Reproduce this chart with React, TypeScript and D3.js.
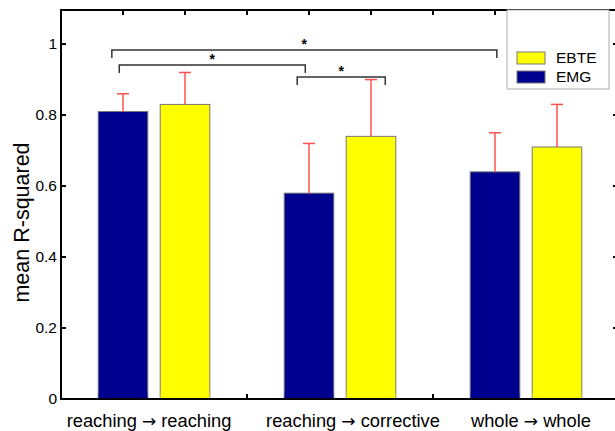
import React from "react";
import * as d3 from "d3";

// group labels and values
const categories = [
  ["reaching", "reaching"],
  ["reaching", "corrective"],
  ["whole", "whole"],
];
const labelPos = [1.42, 4.71, 7.58];
const emgPos = [1, 4, 7];
const ebtePos = [2, 5, 8];
const emptyPos = [3, 6];
const emgMean = [0.81, 0.58, 0.64];
const emgErr = [0.05, 0.14, 0.11];
const ebteMean = [0.83, 0.74, 0.71];
const ebteErr = [0.09, 0.16, 0.12];
const yTicks = [0, 0.2, 0.4, 0.6, 0.8, 1];
const xTicks = [1, 2, 3, 4, 5, 6, 7, 8];

// significance brackets: [x start, x end, level]
const brackets = [
  [0.82, 7.03, 0.983],
  [0.94, 3.94, 0.941],
  [3.81, 5.23, 0.907],
];

const EMG = "#00008f";
const EBTE = "#ffff00";
const ERR = "#ff5050";
const FONT = "Liberation Sans, Arial, sans-serif";

export default function App() {
  const width = 615;
  const height = 431;
  const margin = { left: 61, top: 10, right: -4, bottom: 32 };

  const x = d3.scaleLinear().domain([0, 9]).range([margin.left, width - margin.right]);
  const y = d3.scaleLinear().domain([0, 1.096]).range([height - margin.bottom, margin.top]);
  const bw = x(0.8) - x(0);

  const bar = (pos, val, err, fill, stroke, key) => (
    <g key={key}>
      <rect
        x={x(pos) - bw / 2}
        y={y(val)}
        width={bw}
        height={y(0) - y(val)}
        fill={fill}
        stroke={stroke}
        strokeWidth={1}
      />
      <line x1={x(pos)} x2={x(pos)} y1={y(val)} y2={y(val + err)} stroke={ERR} strokeWidth={1.5} />
      <line x1={x(pos) - 6} x2={x(pos) + 6} y1={y(val + err)} y2={y(val + err)} stroke={ERR} strokeWidth={1.5} />
    </g>
  );

  return (
    <svg width={width} height={height} style={{ position: "absolute", left: 0, top: 0 }} fontFamily={FONT}>
      <rect width={width} height={height} fill="#fff" />

      {/* bars */}
      {emgPos.map((p, i) => bar(p, emgMean[i], emgErr[i], EMG, "#777", "emg" + i))}
      {ebtePos.map((p, i) => bar(p, ebteMean[i], ebteErr[i], EBTE, "#777", "ebte" + i))}
      {emptyPos.map((p) => (
        <line key={"e" + p} x1={x(p) - 5} x2={x(p) + 5} y1={y(0)} y2={y(0)} stroke="#8b0000" strokeWidth={1.5} />
      ))}

      {/* axes box */}
      <line x1={x(0)} x2={width} y1={y(0)} y2={y(0)} stroke="#000" strokeWidth={2} />
      <line x1={x(0)} x2={width} y1={margin.top} y2={margin.top} stroke="#000" strokeWidth={2} />
      <line x1={x(0)} x2={x(0)} y1={margin.top - 1} y2={y(0) + 1} stroke="#000" strokeWidth={2} />
      {xTicks.map((t) => (
        <g key={"xt" + t}>
          <line x1={x(t)} x2={x(t)} y1={margin.top} y2={margin.top + 5} stroke="#000" strokeWidth={2} />
          <line x1={x(t)} x2={x(t)} y1={y(0)} y2={y(0) - 5} stroke="#000" strokeWidth={2} />
        </g>
      ))}
      {yTicks.map((t) => (
        <g key={"yt" + t}>
          <line x1={x(0)} x2={x(0) + 5} y1={y(t)} y2={y(t)} stroke="#000" strokeWidth={2} />
          <line x1={x(9)} x2={x(9) - 6} y1={y(t)} y2={y(t)} stroke="#000" strokeWidth={2} />
          <text x={x(0) - 4} y={y(t)} dy="0.35em" textAnchor="end" fontSize={15.5} fill="#000">
            {t}
          </text>
        </g>
      ))}

      {/* redraw bar bodies over bottom ticks */}
      {emgPos.map((p, i) => (
        <rect key={"c" + i} x={x(p) - bw / 2 + 0.5} y={y(0) - 6} width={bw - 1} height={5} fill={EMG} />
      ))}
      {ebtePos.map((p, i) => (
        <rect key={"d" + i} x={x(p) - bw / 2 + 0.5} y={y(0) - 6} width={bw - 1} height={5} fill={EBTE} />
      ))}

      {/* category labels */}
      {categories.map(([a, b], i) => (
        <text key={i} x={x(labelPos[i])} y={y(0) + 28} textAnchor="middle" fontSize={18.3} fill="#000">
          {a + " "}
          <tspan fontFamily="DejaVu Sans" fontSize={17}>
            {"\u2192"}
          </tspan>
          {" " + b}
        </text>
      ))}

      {/* y label */}
      <text
        transform={`translate(29,${(y(0) + margin.top) / 2 + 18}) rotate(-90)`}
        textAnchor="middle"
        fontSize={21.5}
        fill="#000"
      >
        mean R-squared
      </text>

      {/* significance brackets */}
      {brackets.map(([a, b, lv], i) => (
        <g key={"b" + i}>
          <path
            d={`M${x(a)},${y(lv) + 8} V${y(lv)} H${x(b)} V${y(lv) + 8}`}
            fill="none"
            stroke="#333"
            strokeWidth={1.5}
          />
          <text x={x((a + b) / 2)} y={y(lv) - 1} textAnchor="middle" fontSize={14} fontWeight="bold" fill="#000">
            *
          </text>
        </g>
      ))}

      {/* legend */}
      <rect x={507} y={margin.top} width={102} height={79} fill="#fff" stroke="#aaa" strokeWidth={1} />
      <rect x={517} y={52} width={28} height={12} fill={EBTE} stroke="#777" />
      <rect x={517} y={71} width={28} height={12} fill={EMG} stroke="#777" />
      <text x={556} y={63} fontSize={15.5} fill="#000">EBTE</text>
      <text x={556} y={82} fontSize={15.5} fill="#000">EMG</text>
    </svg>
  );
}
